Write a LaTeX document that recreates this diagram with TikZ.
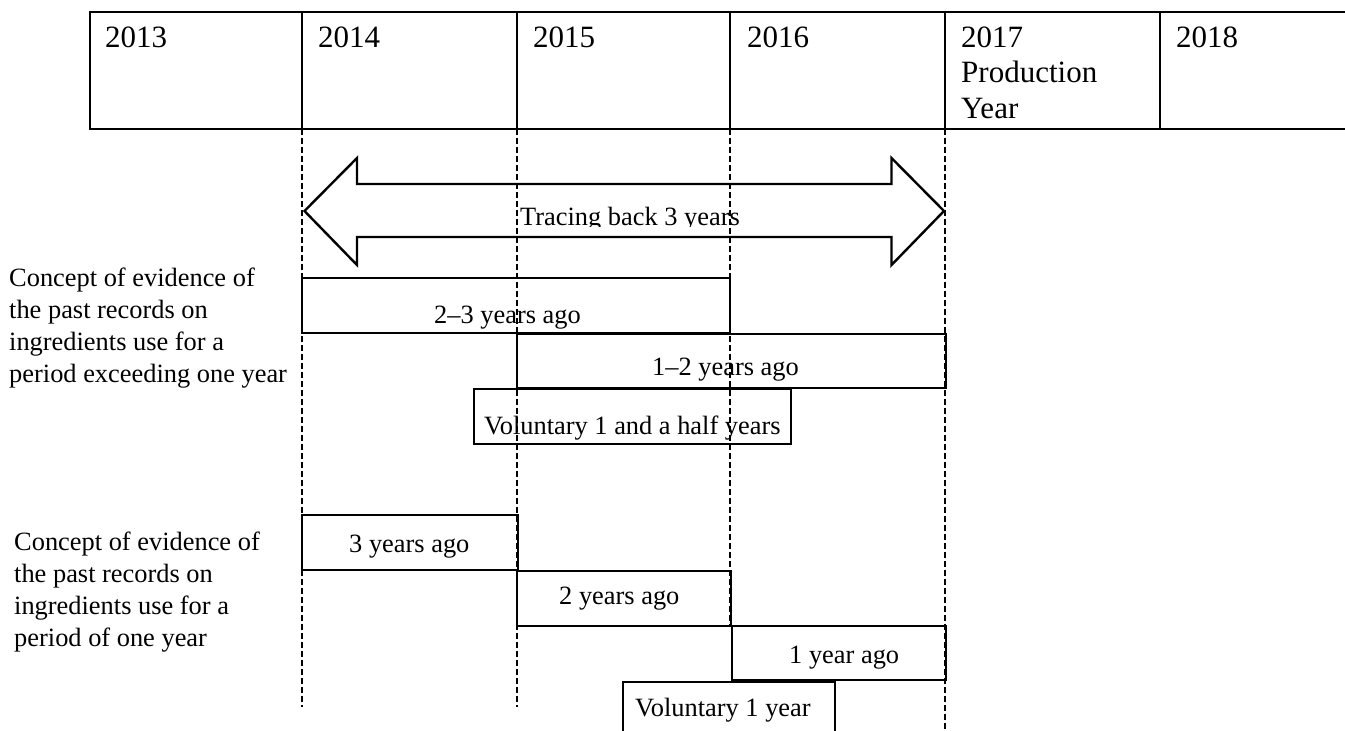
\documentclass[tikz,border=0pt]{standalone}
\usepackage{fontspec}
\setmainfont{Liberation Serif}
\begin{document}
\begin{tikzpicture}[x=1pt,y=-1pt,
  frame/.style={line width=2.4pt},
  boxn/.style={draw, line width=2.4pt, rectangle, inner sep=0pt, anchor=north west},
  guide/.style={line width=1.2pt, dash pattern=on 6pt off 3pt},
  hdr/.style={inner sep=0pt, anchor=base west, font=\fontsize{31}{35.5}\selectfont},
  lbl/.style={inner sep=0pt, anchor=base west, font=\fontsize{26.4}{32}\selectfont},
  side/.style={inner sep=0pt, anchor=north west, align=left, font=\fontsize{26.4}{31.8}\selectfont}]
\useasboundingbox (0,0) rectangle (1345,731);
% header table
\coordinate (tl) at (90,12);
\coordinate (tr) at (1346,12);
\coordinate (bl) at (90,129);
\coordinate (br) at (1346,129);
\draw[frame] (tr) -- (tl) -- (bl) -- (br);
\foreach \xx/\nm in {302/c1,517/c2,730/c3,945/c4,1160/c5}{
  \coordinate (\nm t) at (\xx,12);
  \coordinate (\nm b) at (\xx,129);
  \draw[frame] (\nm t) -- (\nm b);
}
\node[hdr] (y13) at (105,47) {2013};
\node[hdr] (y14) at (318,47) {2014};
\node[hdr] (y15) at (533,47) {2015};
\node[hdr] (y16) at (747,47) {2016};
\node[hdr] (y17) at (961,47) {2017};
\node[hdr] (y17b) at (961,82.5) {Production};
\node[hdr] (y17c) at (961,118) {Year};
\node[hdr] (y18) at (1176,47) {2018};
% guide lines
\coordinate (g1e) at (302,707);
\coordinate (g2e) at (517,707);
\coordinate (g3e) at (730,625);
\coordinate (g4e) at (945,731);
\draw[guide] (c1b) -- (g1e);
\draw[guide] (c2b) -- (g2e);
\draw[guide] (c3b) -- (g3e);
\draw[guide] (c4b) -- (g4e);
% double arrow
\draw[line width=2.4pt, line join=miter]
  (304.5,211) -- (357,158) -- (357,184) -- (891.5,184) -- (891.5,158) -- (944,211)
  -- (891.5,265) -- (891.5,237) -- (357,237) -- (357,265) -- cycle;
\begin{scope}
\clip (500,195) rectangle (780,226.5);
\node[lbl] (trace) at (520,225) {Tracing back 3 years};
\end{scope}
% exceeding one year
\node[side] (s1) at (9,268) {Concept of evidence of\\the past records on\\ingredients use for a\\period exceeding one year};
\node[boxn, minimum width=428, minimum height=55] (b1) at (301,277) {};
\node[lbl] (t1) at (434,323) {2–3 years ago};
\node[boxn, minimum width=429, minimum height=54] (b2) at (516,333) {};
\node[lbl] (t2) at (652,375) {1–2 years ago};
\node[boxn, minimum width=317, minimum height=55] (b3) at (473,388) {};
\node[lbl] (t3) at (484,434) {Voluntary 1 and a half years};
% one year
\node[side] (s2) at (14,532) {Concept of evidence of\\the past records on\\ingredients use for a\\period of one year};
\node[boxn, minimum width=216, minimum height=55] (b4) at (301,514) {};
\node[lbl] (t4) at (349,552) {3 years ago};
\node[boxn, minimum width=214, minimum height=55] (b5) at (516,570) {};
\node[lbl] (t5) at (559,604) {2 years ago};
\node[boxn, minimum width=214, minimum height=54] (b6) at (731,625) {};
\node[lbl] (t6) at (789,663) {1 year ago};
\node[boxn, minimum width=212, minimum height=60] (b7) at (621.5,681) {};
\node[lbl] (t7) at (635,716) {Voluntary 1 year};
\end{tikzpicture}
\end{document}
